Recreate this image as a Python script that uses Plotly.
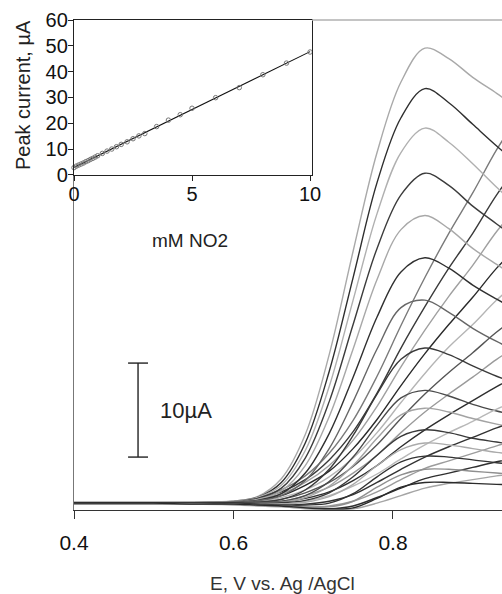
import numpy as np
import plotly.graph_objects as go

# ---------------- data ----------------
potential_V = [0.40, 0.45, 0.50, 0.55, 0.60, 0.63, 0.66, 0.69, 0.72, 0.75,
               0.78, 0.81, 0.84, 0.87, 0.90, 0.93, 0.96]

# curves that peak near 0.84 V (current, uA)
peak_a1 = [0.2, 0.2, 0.2, 0.25, 0.4, 0.9, 2.8, 7.5, 16, 27, 37.5, 45, 48.6, 47.5, 45.5, 43.8, 42]
peak_a2 = [0.1, 0.1, 0.15, 0.2, 0.35, 0.8, 2.4, 6.6, 14.2, 24.2, 34.3, 41.2, 44.3, 42.8, 40.5, 38.2, 36]
peak_a3 = [0.3, 0.3, 0.3, 0.3, 0.4, 0.8, 2.1, 5.8, 12.6, 21.8, 31, 37.5, 40.1, 38.6, 36.3, 33.8, 31.5]
peak_a4 = [0.2, 0.15, 0.2, 0.25, 0.35, 0.7, 1.8, 5, 11, 19.2, 27.3, 33, 35.3, 34, 31.8, 29.9, 28]
peak_a5 = [0.2, 0.2, 0.25, 0.3, 0.35, 0.6, 1.5, 4.2, 9.4, 16.6, 24, 29.3, 30.8, 29.4, 27.3, 25.6, 24]
peak_a6 = [0.1, 0.1, 0.1, 0.15, 0.3, 0.5, 1.2, 3.4, 7.6, 13.6, 20, 24.8, 26.3, 25.2, 23.4, 21.9, 20.5]
peak_a7 = [0.2, 0.2, 0.2, 0.25, 0.3, 0.45, 1.0, 2.6, 6, 11, 16.6, 21, 21.8, 20.5, 18.8, 17.4, 16.2]
peak_a8 = [0.1, 0.1, 0.1, 0.1, 0.2, 0.3, 0.6, 1.6, 3.8, 7.4, 11.8, 15.5, 16.7, 16, 14.8, 13.7, 12.8]
peak_a9 = [0.2, 0.2, 0.2, 0.2, 0.2, 0.25, 0.4, 1.0, 2.5, 5.1, 8.5, 11.4, 12.2, 11.6, 10.7, 10, 9.4]
peak_a10 = [0.1, 0.1, 0.1, 0.1, 0.15, 0.2, 0.3, 0.8, 2, 4.2, 7.1, 9.6, 10.3, 9.9, 9.2, 8.6, 8.1]
peak_a11 = [0.2, 0.2, 0.2, 0.2, 0.2, 0.2, 0.25, 0.5, 1.3, 3, 5.3, 7.3, 8.0, 7.7, 7.1, 6.7, 6.3]
peak_a12 = [0.1, 0.1, 0.1, 0.1, 0.1, 0.1, 0.1, 0.3, 0.9, 2.2, 4.2, 5.9, 6.6, 6.4, 6, 5.6, 5.3]
peak_a13 = [0.2, 0.2, 0.2, 0.2, 0.2, 0.1, 0.0, 0.0, 0.2, 1.2, 3.0, 4.6, 5.2, 5.1, 4.8, 4.5, 4.3]
peak_a14 = [0.1, 0.1, 0.1, 0.1, 0.1, 0.0, -0.1, -0.2, -0.2, 0.4, 1.9, 3.2, 3.8, 3.8, 3.6, 3.4, 3.2]
peak_a15 = [0.2, 0.2, 0.2, 0.1, 0.1, 0.0, -0.1, -0.3, -0.4, -0.3, 0.7, 1.9, 2.4, 2.4, 2.3, 2.2, 2.1]

# curves still rising at the right edge (current, uA)
rise_b1 = [0.2, 0.2, 0.2, 0.2, 0.4, 0.8, 1.6, 3.1, 5.5, 9, 13.7, 19.1, 24.2, 28.9, 33.2, 37.8, 41.7]
rise_b2 = [0.1, 0.1, 0.1, 0.15, 0.3, 0.7, 1.4, 2.7, 4.8, 7.8, 11.9, 16.7, 21.1, 25.2, 28.9, 33, 36.4]
rise_b3 = [0.3, 0.3, 0.3, 0.3, 0.3, 0.6, 1.2, 2.4, 4.2, 6.9, 10.5, 14.7, 18.6, 22.2, 25.5, 29.1, 32.1]
rise_b4 = [0.2, 0.2, 0.2, 0.2, 0.3, 0.5, 1.0, 2.1, 3.6, 6.0, 9.1, 12.7, 16.1, 19.2, 22.1, 25.2, 27.8]
rise_b5 = [0.1, 0.1, 0.1, 0.1, 0.2, 0.4, 0.8, 1.6, 3, 5, 7.7, 10.9, 14, 16.8, 19.2, 21.8, 24]
rise_b6 = [0.2, 0.2, 0.2, 0.2, 0.2, 0.3, 0.6, 1.3, 2.4, 4.1, 6.4, 9.2, 11.8, 14.1, 16.2, 18.4, 20.3]
rise_b7 = [0.1, 0.1, 0.1, 0.1, 0.1, 0.2, 0.4, 1.0, 1.9, 3.4, 5.3, 7.7, 9.9, 11.8, 13.6, 15.5, 17.1]
rise_b8 = [0.2, 0.2, 0.2, 0.2, 0.2, 0.2, 0.3, 0.7, 1.4, 2.6, 4.2, 6.2, 8, 9.6, 11.1, 12.6, 13.9]
rise_b9 = [0.1, 0.1, 0.1, 0.1, 0.1, 0.1, 0.1, 0.4, 1.0, 2.0, 3.3, 4.9, 6.4, 7.7, 8.9, 10.2, 11.2]
rise_b10 = [0.2, 0.2, 0.2, 0.2, 0.2, 0.1, 0.0, 0.1, 0.4, 1.1, 2.4, 3.8, 5.1, 6.2, 7.2, 8.2, 9.1]
rise_b11 = [0.1, 0.1, 0.1, 0.1, 0.1, 0.0, -0.1, -0.2, -0.1, 0.4, 1.4, 2.7, 3.9, 4.7, 5.5, 6.3, 7]
rise_b12 = [0.2, 0.2, 0.2, 0.1, 0.1, 0.0, -0.1, -0.3, -0.4, -0.1, 0.8, 1.8, 2.8, 3.4, 4.0, 4.6, 5.1]
rise_b13 = [0.1, 0.1, 0.1, 0.1, 0.0, -0.1, -0.2, -0.4, -0.5, -0.4, 0.2, 1.0, 1.8, 2.3, 2.7, 3.1, 3.4]

curves = [peak_a1, rise_b1, peak_a2, rise_b2, peak_a3, rise_b3, peak_a4, rise_b4,
          peak_a5, rise_b5, peak_a6, rise_b6, peak_a7, rise_b7, peak_a8, rise_b8,
          peak_a9, rise_b9, peak_a10, rise_b10, peak_a11, rise_b11, peak_a12,
          rise_b12, peak_a13, rise_b13, peak_a14, peak_a15]
curve_colors = ["#a9a9a9", "#7a7a7a", "#2e2e2e", "#3a3a3a", "#b0b0b0", "#a0a0a0",
                "#3c3c3c", "#2a2a2a", "#a8a8a8", "#b5b5b5", "#303030", "#555555",
                "#666666", "#9a9a9a", "#3a3a3a", "#2e2e2e", "#4a4a4a", "#b8b8b8",
                "#a3a3a3", "#333333", "#3a3a3a", "#9c9c9c", "#aaaaaa", "#2f2f2f",
                "#333333", "#a5a5a5", "#8f8f8f", "#2b2b2b"]

# inset: peak current vs nitrite concentration
conc_mM = [0, 0.1, 0.2, 0.3, 0.4, 0.5, 0.6, 0.7, 0.8, 0.9, 1.0, 1.2, 1.4, 1.6, 1.8,
           2.0, 2.25, 2.5, 2.75, 3.0, 3.5, 4.0, 4.5, 5.0, 6.0, 7.0, 8.0, 9.0, 10.0]
peak_uA = [2.8, 3.4, 3.8, 4.2, 4.6, 5.1, 5.5, 6.0, 6.4, 6.9, 7.4, 8.3, 9.2, 10.0, 10.9,
           11.8, 12.8, 14.0, 15.1, 16.0, 18.7, 21.2, 23.3, 25.8, 29.9, 33.8, 38.8, 43.3, 47.6]

x_ticks_main = [0.4, 0.6, 0.8]
x_ticks_inset = [0, 5, 10]
scale_bar_uA = 10

# ---------------- figure ----------------
FONT = "Liberation Sans, Arial, sans-serif"
fig = go.Figure()

for ys, col in zip(curves, curve_colors):
    fig.add_trace(go.Scatter(x=potential_V, y=ys, mode="lines",
                             line=dict(color=col, width=1.4, shape="spline", smoothing=1.0),
                             hoverinfo="skip", showlegend=False))

slope, intercept = np.polyfit(conc_mM, peak_uA, 1)
fit_x = [min(conc_mM), max(conc_mM)]
fig.add_trace(go.Scatter(x=fit_x, y=[intercept + slope * v for v in fit_x], mode="lines",
                         line=dict(color="#111111", width=1.1), xaxis="x2", yaxis="y2",
                         showlegend=False))
fig.add_trace(go.Scatter(x=conc_mM, y=peak_uA, mode="markers",
                         marker=dict(symbol="circle-open", size=4.5, color="#777777",
                                     line=dict(width=1)),
                         xaxis="x2", yaxis="y2", showlegend=False, cliponaxis=False))

# scale bar (data units of current)
bar_x = 0.4803
bar_lo = 5.1
bar_hi = bar_lo + scale_bar_uA
shapes = [
    dict(type="line", xref="x", yref="y", x0=bar_x, x1=bar_x, y0=bar_lo, y1=bar_hi,
         line=dict(color="#222", width=1.4)),
    dict(type="line", xref="x", yref="y", x0=bar_x - 0.0125, x1=bar_x + 0.0125,
         y0=bar_lo, y1=bar_lo, line=dict(color="#222", width=1.4)),
    dict(type="line", xref="x", yref="y", x0=bar_x - 0.0125, x1=bar_x + 0.0125,
         y0=bar_hi, y1=bar_hi, line=dict(color="#222", width=1.4)),
    dict(type="line", xref="paper", yref="paper", x0=0.556, x1=1.0, y0=1.0, y1=1.0,
         line=dict(color="#b0b0b0", width=1.6)),
]

annotations = [
    dict(text="10µA", xref="x", yref="y", x=0.505, y=(bar_lo + bar_hi) / 2,
         xanchor="left", yanchor="middle", showarrow=False,
         font=dict(family=FONT, size=22, color="#222")),
    dict(text="E, V vs. Ag /AgCl", xref="paper", yref="paper", x=0.488, y=-0.149,
         xanchor="center", yanchor="middle", showarrow=False,
         font=dict(family=FONT, size=19, color="#333")),
    dict(text="mM NO2", xref="paper", yref="paper", x=0.271, y=0.551,
         xanchor="center", yanchor="middle", showarrow=False,
         font=dict(family=FONT, size=19, color="#222")),
    dict(text="Peak current, µA", xref="paper", yref="paper", x=-0.119, y=0.847,
         xanchor="center", yanchor="middle", textangle=-90, showarrow=False,
         font=dict(family=FONT, size=20, color="#222")),
]

fig.update_layout(
    width=502, height=594, autosize=False,
    margin=dict(l=74, r=0, t=20, b=84),
    paper_bgcolor="white", plot_bgcolor="white",
    font=dict(family=FONT, color="#222"),
    showlegend=False,
    shapes=shapes, annotations=annotations,
    xaxis=dict(range=[0.4, 0.9367], tickvals=x_ticks_main,
               ticktext=[f"{v:.1f}" for v in x_ticks_main],
               ticks="outside", ticklen=8, tickwidth=1.2, tickcolor="#333",
               ticklabelstandoff=6,
               showline=True, linecolor="#333", linewidth=1.3,
               showgrid=False, zeroline=False, automargin=False,
               tickfont=dict(family=FONT, size=21, color="#111")),
    yaxis=dict(range=[-0.53, 51.6], showticklabels=False, ticks="",
               showline=True, linecolor="#777", linewidth=1.3,
               showgrid=False, zeroline=False, automargin=False),
    xaxis2=dict(domain=[0, 0.556], anchor="y2", range=[0, 10.08],
                tickvals=x_ticks_inset, ticks="outside", ticklen=5, tickwidth=1.2,
                ticklabelstandoff=-4,
                tickcolor="#222", showline=True, mirror=True, linecolor="#222",
                linewidth=1.3, showgrid=False, zeroline=False, automargin=False,
                tickfont=dict(family=FONT, size=20, color="#111")),
    yaxis2=dict(domain=[0.684, 1.0], anchor="x2", range=[0, 60], dtick=10,
                ticks="outside", ticklen=5, tickwidth=1.2, tickcolor="#222",
                ticklabelstandoff=-4,
                showline=True, mirror=True, linecolor="#222", linewidth=1.3,
                showgrid=False, zeroline=False, automargin=False,
                tickfont=dict(family=FONT, size=20, color="#111")),
)

fig.write_html("out.html", config={"displayModeBar": False},
               post_script="document.body.style.margin='0';document.body.style.overflow='hidden';")
